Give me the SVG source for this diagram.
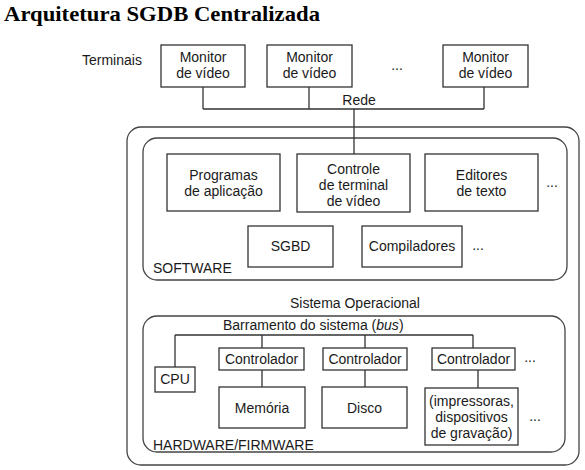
<svg xmlns="http://www.w3.org/2000/svg" width="585" height="470" viewBox="0 0 585 470">
<style>
.bx{fill:#fff;stroke:#333;stroke-width:1.3}
.rr{fill:none;stroke:#444;stroke-width:1.3}
.ln{fill:none;stroke:#333;stroke-width:1.3}
text{font-family:"Liberation Sans",Arial,sans-serif;font-size:14px;fill:#1a1a1a}
.c{text-anchor:middle}
.title{font-family:"Liberation Serif","Times New Roman",serif;font-size:21px;font-weight:bold;fill:#000}
</style>
<rect width="585" height="470" fill="#fff"/>
<text class="title" x="4" y="21" textLength="316" lengthAdjust="spacingAndGlyphs">Arquitetura SGDB Centralizada</text>
<text x="82" y="65">Terminais</text>
<text class="c" x="397" y="70">...</text>
<text class="c" x="359" y="105">Rede</text>
<g id="containers">
<rect class="rr" x="127" y="127" width="452" height="338" rx="14"/>
<rect class="rr" x="143" y="138" width="424" height="142" rx="14"/>
<rect class="rr" x="143" y="316" width="422" height="136" rx="14"/>
<text x="153" y="273">SOFTWARE</text>
<text class="c" x="355" y="308">Sistema Operacional</text>
<text x="223" y="330">Barramento do sistema (<tspan font-style="italic">bus</tspan>)</text>
<text x="153" y="450">HARDWARE/FIRMWARE</text>
<text class="c" x="552" y="187">...</text>
<text class="c" x="478" y="250">...</text>
<text class="c" x="530" y="362">...</text>
<text class="c" x="535" y="421">...</text>
</g>
<g id="connectors">
<path class="ln" d="M203 87V109M309 87V109M484 87V109M203 109H484M354 109V154"/>
<path class="ln" d="M175 335H473M175 335V367M262 335V348M365 335V348M473 335V348M262 370V387M365 370V387M478 370V388"/>
</g>
<g id="monitor1"><rect class="bx" x="161" y="45" width="84" height="42"/><text class="c" x="203" y="62">Monitor</text><text class="c" x="203" y="78">de vídeo</text></g>
<g id="monitor2"><rect class="bx" x="267" y="45" width="85" height="42"/><text class="c" x="309.5" y="62">Monitor</text><text class="c" x="309.5" y="78">de vídeo</text></g>
<g id="monitor3"><rect class="bx" x="443" y="45" width="85" height="42"/><text class="c" x="485.5" y="62">Monitor</text><text class="c" x="485.5" y="78">de vídeo</text></g>
<g id="programas"><rect class="bx" x="167" y="154" width="113" height="57"/><text class="c" x="223.5" y="180">Programas</text><text class="c" x="223.5" y="196">de aplicação</text></g>
<g id="controle"><rect class="bx" x="297" y="154" width="113" height="58"/><text class="c" x="353.5" y="174">Controle</text><text class="c" x="353.5" y="190">de terminal</text><text class="c" x="353.5" y="206">de vídeo</text></g>
<g id="editores"><rect class="bx" x="425" y="154" width="113" height="57"/><text class="c" x="481.5" y="180">Editores</text><text class="c" x="481.5" y="196">de texto</text></g>
<g id="sgbd"><rect class="bx" x="248" y="226" width="85" height="41"/><text class="c" x="290.5" y="251">SGBD</text></g>
<g id="compiladores"><rect class="bx" x="362" y="226" width="100" height="41"/><text class="c" x="412" y="251">Compiladores</text></g>
<g id="cpu"><rect class="bx" x="155" y="367" width="40" height="25"/><text class="c" x="175" y="384">CPU</text></g>
<g id="ctrl1"><rect class="bx" x="219" y="348" width="85" height="22"/><text class="c" x="261.5" y="364">Controlador</text></g>
<g id="ctrl2"><rect class="bx" x="323" y="348" width="84" height="22"/><text class="c" x="365" y="364">Controlador</text></g>
<g id="ctrl3"><rect class="bx" x="432" y="348" width="83" height="22"/><text class="c" x="473.5" y="364">Controlador</text></g>
<g id="memoria"><rect class="bx" x="219" y="387" width="86" height="41"/><text class="c" x="262" y="413">Memória</text></g>
<g id="disco"><rect class="bx" x="322" y="387" width="85" height="41"/><text class="c" x="364.5" y="413">Disco</text></g>
<g id="perifericos"><rect class="bx" x="425" y="388" width="93" height="57"/><text class="c" x="471.5" y="406">(impressoras,</text><text class="c" x="471.5" y="422">dispositivos</text><text class="c" x="471.5" y="438">de gravação)</text></g>
</svg>
